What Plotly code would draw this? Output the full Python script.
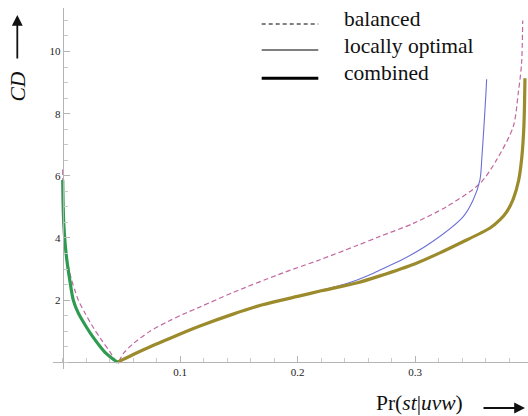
import plotly.graph_objects as go

# ---------------- data ----------------
# balanced (dashed)
bal_x = [0, 0.0005, 0.0015, 0.003, 0.0048, 0.0075, 0.0105, 0.0133, 0.019, 0.026, 0.033, 0.04, 0.0465,
         0.052, 0.06, 0.0743, 0.09, 0.1026, 0.1168, 0.1452, 0.1877, 0.219, 0.25, 0.27, 0.2984, 0.3268,
         0.3553, 0.3694, 0.3835, 0.3877, 0.3905, 0.3915]
bal_y = [6.2, 4.9, 4.1, 3.5, 3.08, 2.65, 2.3, 2.0, 1.58, 1.12, 0.72, 0.35, 0.0,
         0.3, 0.6, 1.0, 1.32, 1.55, 1.78, 2.25, 2.88, 3.3, 3.75, 4.05, 4.47, 5.01,
         5.76, 6.52, 7.59, 8.66, 9.6, 11.0]

# locally optimal (thin solid)
loc_x = [0.0465, 0.052, 0.06, 0.0745, 0.09, 0.1055, 0.1168, 0.145, 0.17, 0.2, 0.22, 0.235, 0.25, 0.26,
         0.27, 0.2883, 0.3126, 0.3409, 0.3494, 0.3551, 0.3568, 0.3585, 0.3602, 0.3608]
loc_y = [0.0, 0.1, 0.25, 0.5, 0.75, 1.0, 1.17, 1.55, 1.85, 2.12, 2.32, 2.46, 2.64, 2.79,
         2.97, 3.29, 3.83, 4.69, 5.23, 5.87, 6.62, 7.59, 8.66, 9.11]

# combined (thick solid) - left branch
cmb_left_x = [0, 0.0004, 0.001, 0.002, 0.0035, 0.006, 0.009, 0.0133, 0.0204, 0.026, 0.036, 0.0465]
cmb_left_y = [5.87, 5.0, 4.4, 3.85, 3.3, 2.65, 2.0, 1.58, 1.12, 0.8, 0.32, 0.0]

# combined (thick solid) - right branch
cmb_right_x = [0.0465, 0.052, 0.06, 0.0745, 0.09, 0.1055, 0.1168, 0.145, 0.17, 0.2, 0.22, 0.25, 0.27,
               0.3, 0.321, 0.338, 0.3637, 0.372, 0.378, 0.3835, 0.388, 0.3906, 0.3925, 0.3934]
cmb_right_y = [0.0, 0.1, 0.25, 0.5, 0.75, 1.0, 1.17, 1.55, 1.85, 2.12, 2.3, 2.55, 2.78,
               3.17, 3.52, 3.83, 4.32, 4.58, 4.85, 5.26, 5.85, 6.55, 7.6, 9.14]

x_tickvals = [0.1, 0.2, 0.3]
x_ticktext = ["0.1", "0.2", "0.3"]
y_tickvals = [2, 4, 6, 8, 10]
y_ticktext = ["2", "4", "6", "8", "10"]

legend_labels = ["balanced", "locally optimal", "combined"]

# ---------------- styling ----------------
SERIF = "Liberation Serif"
C_BAL = "#c2679f"
C_LOC = "#6b6fd4"
C_OLV = "#9c8b2c"
C_GRN = "#2e9b50"
AX = "#b4b4b4"

X_RANGE = [-0.00826, 0.396]
Y_RANGE = [-0.216, 11.40]

W, H = 528, 416
ML, MR, MT, MB = 53, 0, 8, 47
PW, PH = W - ML - MR, H - MT - MB


def px(xp):
    return (xp - ML) / PW


def py(yp):
    return (MT + PH - yp) / PH


SM = 0.8
fig = go.Figure()
fig.add_trace(go.Scatter(x=bal_x, y=bal_y, mode="lines",
                         line=dict(color=C_BAL, width=1.2, dash="5px,3px", shape="spline", smoothing=SM)))
fig.add_trace(go.Scatter(x=loc_x, y=loc_y, mode="lines",
                         line=dict(color=C_LOC, width=1.1, shape="spline", smoothing=SM)))
fig.add_trace(go.Scatter(x=cmb_right_x, y=cmb_right_y, mode="lines",
                         line=dict(color=C_OLV, width=3.2, shape="spline", smoothing=SM)))
fig.add_trace(go.Scatter(x=cmb_left_x, y=cmb_left_y, mode="lines",
                         line=dict(color=C_GRN, width=3.2, shape="spline", smoothing=SM)))

xpos = (0 - Y_RANGE[0]) / (Y_RANGE[1] - Y_RANGE[0])
ypos = (0 - X_RANGE[0]) / (X_RANGE[1] - X_RANGE[0])

fig.update_layout(
    width=W, height=H,
    margin=dict(l=ML, r=MR, t=MT, b=MB),
    plot_bgcolor="white", paper_bgcolor="white",
    showlegend=False,
    xaxis=dict(range=X_RANGE, anchor="free", position=xpos, showline=True, linecolor=AX, linewidth=1,
               ticks="inside", ticklen=6, tickcolor=AX, tickwidth=1,
               tickmode="array", tickvals=x_tickvals, ticktext=x_ticktext,
               tickfont=dict(family=SERIF, size=11, color="#222"),
               minor=dict(dtick=0.02, tick0=0, ticks="inside", ticklen=4, tickcolor="#c8c8c8"),
               showgrid=False, zeroline=False),
    yaxis=dict(range=Y_RANGE, anchor="free", position=ypos, showline=True, linecolor=AX, linewidth=1,
               ticks="inside", ticklen=6, tickcolor=AX, tickwidth=1,
               tickmode="array", tickvals=y_tickvals, ticktext=y_ticktext,
               tickfont=dict(family=SERIF, size=11, color="#222"),
               minor=dict(dtick=0.5, tick0=0, ticks="inside", ticklen=4, tickcolor="#c8c8c8"),
               showgrid=False, zeroline=False),
)

# legend (manual, black samples)
leg_line_y = [24, 50, 78.3]
leg_text_y = [19, 46, 73.4]
leg_styles = [dict(color="black", width=1, dash="4px,3px"),
              dict(color="black", width=1),
              dict(color="black", width=3)]
for lab, ly, ty, st in zip(legend_labels, leg_line_y, leg_text_y, leg_styles):
    fig.add_shape(type="line", xref="paper", yref="paper", x0=px(261.7), x1=px(318.3),
                  y0=py(ly), y1=py(ly), line=st)
    fig.add_annotation(xref="paper", yref="paper", x=px(341.7), y=py(ty), text=lab,
                       xanchor="left", yanchor="middle", showarrow=False,
                       font=dict(family=SERIF, size=21.5, color="#111"))

# axis titles with arrows
fig.add_annotation(xref="paper", yref="paper", x=px(419), y=py(402.5),
                   text="Pr(<i>st</i>|<i>uvw</i>)", showarrow=False,
                   xanchor="center", yanchor="middle",
                   font=dict(family=SERIF, size=21.5, color="#111"))
fig.add_annotation(xref="paper", yref="paper", x=px(525), y=py(408), text="",
                   showarrow=True, ax=-43, ay=0, arrowhead=2, arrowsize=1.2, arrowwidth=1.8,
                   arrowcolor="#111")
fig.add_annotation(xref="paper", yref="paper", x=px(17.5), y=py(87),
                   text="<i>CD</i>", showarrow=False, textangle=-90,
                   xanchor="center", yanchor="middle",
                   font=dict(family=SERIF, size=21.5, color="#111"))
fig.add_annotation(xref="paper", yref="paper", x=px(17.3), y=py(15), text="",
                   showarrow=True, ax=0, ay=45, arrowhead=2, arrowsize=1.2, arrowwidth=1.8,
                   arrowcolor="#111")

fig.write_html("out.html", config={"displayModeBar": False},
               post_script="document.body.style.margin='0';document.body.style.overflow='hidden';")
